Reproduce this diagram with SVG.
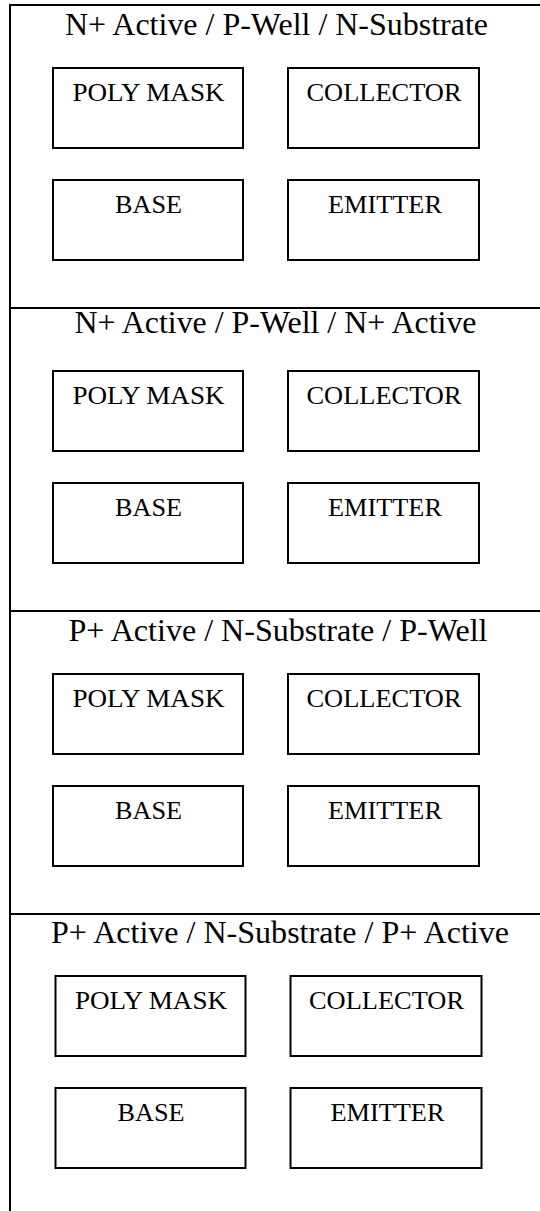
<svg xmlns="http://www.w3.org/2000/svg" width="540" height="1211" viewBox="0 0 540 1211">
<style>
.frame{stroke:#000;stroke-width:2;fill:none}
.box{stroke:#000;stroke-width:2;fill:#fff}
.title{font-family:"Liberation Serif","Times New Roman",serif;font-size:30.5px;fill:#000;text-anchor:middle}
.lbl{font-family:"Liberation Serif","Times New Roman",serif;font-size:24.5px;fill:#000;text-anchor:middle}
</style>
<rect width="540" height="1211" fill="#fff"/>
<g id="frame">
<line class="frame" x1="9" y1="5" x2="540" y2="5"/>
<line class="frame" x1="10" y1="4" x2="10" y2="1211"/>
<line class="frame" x1="10" y1="308" x2="540" y2="308"/>
<line class="frame" x1="10" y1="611" x2="540" y2="611"/>
<line class="frame" x1="10" y1="914" x2="540" y2="914"/>
</g>
<g id="connectors"></g>
<g id="section1">
<text class="title" x="276.5" y="35" textLength="423" lengthAdjust="spacingAndGlyphs">N+ Active / P-Well / N-Substrate</text>
<g id="s1-poly"><rect class="box" x="53" y="68" width="190" height="80"/><text class="lbl" x="148.5" y="101" textLength="152" lengthAdjust="spacingAndGlyphs">POLY MASK</text></g>
<g id="s1-collector"><rect class="box" x="288" y="68" width="191" height="80"/><text class="lbl" x="384" y="101" textLength="155" lengthAdjust="spacingAndGlyphs">COLLECTOR</text></g>
<g id="s1-base"><rect class="box" x="53" y="180" width="190" height="80"/><text class="lbl" x="148.5" y="213" textLength="67" lengthAdjust="spacingAndGlyphs">BASE</text></g>
<g id="s1-emitter"><rect class="box" x="288" y="180" width="191" height="80"/><text class="lbl" x="385" y="213" textLength="114" lengthAdjust="spacingAndGlyphs">EMITTER</text></g>
</g>
<g id="section2">
<text class="title" x="275.5" y="333" textLength="402" lengthAdjust="spacingAndGlyphs">N+ Active / P-Well / N+ Active</text>
<g id="s2-poly"><rect class="box" x="53" y="371" width="190" height="80"/><text class="lbl" x="148.5" y="404" textLength="152" lengthAdjust="spacingAndGlyphs">POLY MASK</text></g>
<g id="s2-collector"><rect class="box" x="288" y="371" width="191" height="80"/><text class="lbl" x="384" y="404" textLength="155" lengthAdjust="spacingAndGlyphs">COLLECTOR</text></g>
<g id="s2-base"><rect class="box" x="53" y="483" width="190" height="80"/><text class="lbl" x="148.5" y="516" textLength="67" lengthAdjust="spacingAndGlyphs">BASE</text></g>
<g id="s2-emitter"><rect class="box" x="288" y="483" width="191" height="80"/><text class="lbl" x="385" y="516" textLength="114" lengthAdjust="spacingAndGlyphs">EMITTER</text></g>
</g>
<g id="section3">
<text class="title" x="278" y="641" textLength="419" lengthAdjust="spacingAndGlyphs">P+ Active / N-Substrate / P-Well</text>
<g id="s3-poly"><rect class="box" x="53" y="674" width="190" height="80"/><text class="lbl" x="148.5" y="707" textLength="152" lengthAdjust="spacingAndGlyphs">POLY MASK</text></g>
<g id="s3-collector"><rect class="box" x="288" y="674" width="191" height="80"/><text class="lbl" x="384" y="707" textLength="155" lengthAdjust="spacingAndGlyphs">COLLECTOR</text></g>
<g id="s3-base"><rect class="box" x="53" y="786" width="190" height="80"/><text class="lbl" x="148.5" y="819" textLength="67" lengthAdjust="spacingAndGlyphs">BASE</text></g>
<g id="s3-emitter"><rect class="box" x="288" y="786" width="191" height="80"/><text class="lbl" x="385" y="819" textLength="114" lengthAdjust="spacingAndGlyphs">EMITTER</text></g>
</g>
<g id="section4">
<text class="title" x="280" y="943" textLength="458" lengthAdjust="spacingAndGlyphs">P+ Active / N-Substrate / P+ Active</text>
<g id="s4-poly"><rect class="box" x="55.5" y="976" width="190" height="80"/><text class="lbl" x="151" y="1009" textLength="152" lengthAdjust="spacingAndGlyphs">POLY MASK</text></g>
<g id="s4-collector"><rect class="box" x="290.5" y="976" width="191" height="80"/><text class="lbl" x="386.5" y="1009" textLength="155" lengthAdjust="spacingAndGlyphs">COLLECTOR</text></g>
<g id="s4-base"><rect class="box" x="55.5" y="1088" width="190" height="80"/><text class="lbl" x="151" y="1121" textLength="67" lengthAdjust="spacingAndGlyphs">BASE</text></g>
<g id="s4-emitter"><rect class="box" x="290.5" y="1088" width="191" height="80"/><text class="lbl" x="387.5" y="1121" textLength="114" lengthAdjust="spacingAndGlyphs">EMITTER</text></g>
</g>
</svg>
